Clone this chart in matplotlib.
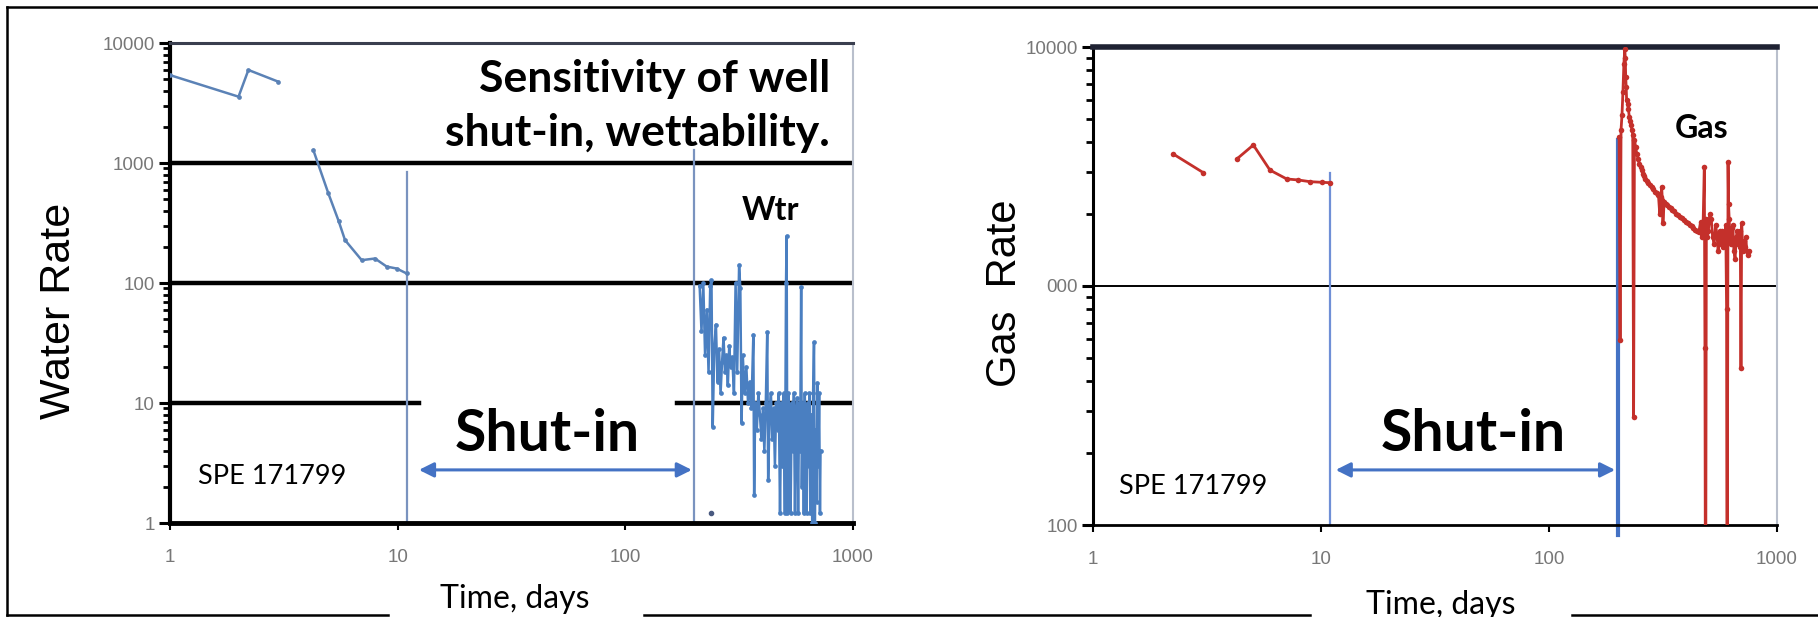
import matplotlib
matplotlib.use("Agg")
import matplotlib.pyplot as plt
from matplotlib.lines import Line2D
from matplotlib.ticker import FixedLocator, FixedFormatter, NullLocator, LogLocator, NullFormatter

plt.rcParams['font.family'] = ['Lato', 'DejaVu Sans']

# ---------------- data ----------------
x_ticks = [1, 10, 100, 1000]
x_tick_labels = ["1", "10", "100", "1000"]
water_y_ticks = [1, 10, 100, 1000, 10000]
water_y_labels = ["1", "10", "100", "1000", "10000"]
gas_y_ticks = [100, 1000, 10000]
gas_y_labels = ["100", "000", "10000"]

water_days_1 = [1.0, 2.0, 2.21, 2.99]
water_rate_1 = [5400, 3570, 5960, 4760]
water_days_2 = [4.26, 4.96, 5.5, 5.87, 6.95, 7.95, 8.95, 9.9, 10.96]
water_rate_2 = [1283, 559, 330, 228, 155, 160, 137, 132, 120]
water_days_3 = [212, 216, 220, 224, 228, 232, 236, 239, 242, 246, 250, 254, 258, 262,
                266, 270, 274, 278, 282, 286, 290, 295, 300, 305, 310, 316, 320, 324,
                328, 334, 340, 346, 352, 358, 365, 368, 372, 378, 384, 390, 396, 402,
                408, 414, 420, 424, 430, 436, 442, 448, 454, 460, 466, 472, 478, 484,
                490, 496, 502, 508, 511, 515, 520, 526, 532, 538, 544, 550, 556, 562,
                568, 574, 580, 586, 592, 596, 602, 608, 614, 620, 626, 632, 638, 644,
                650, 656, 662, 668, 674, 680, 686, 692, 698, 704, 710, 716, 720]
water_rate_3 = [95, 40, 100, 25, 60, 18, 95, 105, 6.3, 30, 45, 15, 28, 12,
                22, 35, 18, 25, 14, 30, 20, 24, 12, 100, 18, 140, 90, 6.8,
                25, 12, 20, 10, 15, 9, 37, 1.7, 10, 6, 12, 8, 5, 9,
                4, 10, 39, 2.3, 8, 12, 5, 9, 3, 10, 6, 12, 1.2, 10,
                3, 12, 1.2, 100, 246, 1.2, 12, 6, 1.2, 10, 4, 12, 1.2, 8,
                11, 1.2, 10, 4, 93, 2, 10, 1.2, 12, 5, 1.2, 10, 3, 12,
                1.2, 8, 1, 12, 32, 1, 6, 1.5, 14.7, 3, 12, 1.2, 4]
water_lone_day = [239]
water_lone_rate = [1.2]

gas_days_1 = [2.25, 3.05]
gas_rate_1 = [3565, 2978]
gas_days_2 = [4.27, 5.05, 5.97, 7.07, 7.95, 8.95, 10.07, 10.95]
gas_rate_2 = [3398, 3890, 3055, 2805, 2777, 2732, 2716, 2705]
gas_days_3 = [203, 205, 207, 209, 211, 213, 215, 216, 217, 218, 219, 221, 223, 225, 227,
              229, 231, 233, 235, 237, 240, 243, 246, 249, 252, 255, 258, 261, 264, 268,
              272, 277, 282, 287, 292, 297, 302, 306, 310, 312, 314, 316, 320, 325, 330,
              336, 342, 348, 354, 361, 368, 375, 382, 390, 398, 406, 414, 422, 430, 438,
              446, 454, 462, 468, 474, 480, 483, 486, 490, 495, 500, 507, 515, 522, 530,
              538, 545, 552, 560, 568, 575, 582, 590, 596, 601, 604, 610, 613, 617, 622,
              628, 634, 640, 647, 655, 662, 670, 677, 685, 690, 695, 700, 706, 712, 718,
              724, 730, 737, 745, 754]
gas_rate_3 = [4200, 595, 4500, 5200, 6500, 8500, 9800, 9000, 7500, 6800, 6000, 5800, 5500,
              5100, 4900, 4700, 4500, 4300, 283, 4100, 3800, 3550, 3400, 3250, 3150, 3050,
              2950, 2880, 2800, 2750, 2700, 2650, 2600, 2550, 2480, 2440, 2400, 2000, 2350,
              2600, 2300, 1830, 2250, 2200, 2180, 2150, 2120, 2080, 2050, 2000, 1980, 1950,
              1920, 1880, 1860, 1830, 1800, 1780, 1750, 1720, 1700, 1680, 1850, 1600, 1800,
              3150, 550, 20, 1900, 1600, 1700, 2000, 1900, 1600, 1500, 1800, 1650, 1400,
              1700, 1500, 1700, 1450, 1500, 1800, 800, 20, 3300, 2200, 1900, 1600, 1500,
              1750, 1800, 1400, 1300, 1600, 1700, 1500, 1450, 1700, 454, 1830, 1500, 1400,
              1550, 1450, 1600, 1400, 1350, 1400]

# shut-in markers (start / end day, tops of vertical lines)
shutin_days = [11.0, 201.0]
water_vline_tops = [841, 1283]
gas_vline_tops = [2970, 4080]
water_arrow = (12.4, 196, 2.77)
gas_arrow = (11.6, 195, 170)

# ---------------- figure ----------------
W, H = 1818, 617
fig = plt.figure(figsize=(W / 100, H / 100), dpi=100)

def fx(x):
    return x / W

def fy(y):
    return 1 - y / H

water_col = '#4a7fc1'
gas_col = '#c4302b'
line_blue = '#7a93bf'
arrow_blue = '#4472c4'
tick_grey = '#777777'

def setup_axis(ax, ylim, yticks, ylabels, top_color, top_lw, left_lw, bottom_lw):
    ax.set_xscale('log')
    ax.set_yscale('log')
    ax.set_xlim(1, 1000)
    ax.set_ylim(*ylim)
    ax.xaxis.set_major_locator(FixedLocator(x_ticks))
    ax.xaxis.set_major_formatter(FixedFormatter(x_tick_labels))
    ax.xaxis.set_minor_locator(NullLocator())
    ax.yaxis.set_major_locator(FixedLocator(yticks))
    ax.yaxis.set_major_formatter(FixedFormatter(ylabels))
    ax.yaxis.set_minor_locator(LogLocator(base=10, subs=range(2, 10)))
    ax.yaxis.set_minor_formatter(NullFormatter())
    ax.tick_params(axis='y', which='major', direction='out', length=8, width=2.2,
                   colors='black', labelcolor=tick_grey, labelsize=13.5, pad=3)
    ax.tick_params(axis='y', which='minor', direction='out', length=5, width=2.0, colors='black')
    ax.tick_params(axis='x', which='major', direction='out', length=5, width=1.5,
                   colors='black', labelcolor=tick_grey, labelsize=13.5, pad=14)
    for lab in ax.get_xticklabels() + ax.get_yticklabels():
        lab.set_family(['Liberation Sans', 'DejaVu Sans'])
    ax.spines['top'].set_color(top_color)
    ax.spines['top'].set_linewidth(top_lw)
    ax.spines['right'].set_color('#b9bfcc')
    ax.spines['right'].set_linewidth(1.5)
    ax.spines['left'].set_linewidth(left_lw)
    ax.spines['bottom'].set_linewidth(bottom_lw)
    ax.set_facecolor('white')

# ---------- left: water ----------
axw = fig.add_axes([fx(170), fy(523), fx(683), 480 / H])
setup_axis(axw, (1, 10000), water_y_ticks, water_y_labels, '#3a3f4f', 2.2, 3.0, 3.5)
for v in [100, 1000]:
    axw.axhline(v, color='black', lw=3.2, zorder=1)
axw.axhline(10, xmin=0, xmax=(419 - 170) / 683, color='black', lw=3.2, zorder=1)
axw.axhline(10, xmin=(677 - 170) / 683, xmax=1, color='black', lw=3.2, zorder=1)

for d, top in zip(shutin_days, water_vline_tops):
    axw.plot([d, d], [1, top], color=line_blue, lw=1.6, zorder=2)

mk = dict(marker='o', markersize=3.4, markeredgewidth=0, lw=1.8, zorder=3)
axw.plot(water_days_1, water_rate_1, color='#5b82b6', **mk)
axw.plot(water_days_2, water_rate_2, color='#5b82b6', **mk)
axw.plot(water_days_3, water_rate_3, color=water_col, **mk)
axw.plot(water_lone_day, water_lone_rate, color='#4a5a80', marker='o', markersize=3,
         lw=0, zorder=3)

axw.annotate('', xy=(water_arrow[1], water_arrow[2]), xytext=(water_arrow[0], water_arrow[2]),
             arrowprops=dict(arrowstyle='<|-|>', color=arrow_blue, lw=2.2, mutation_scale=22,
                             shrinkA=0, shrinkB=0), zorder=4)

# ---------- right: gas ----------
axg = fig.add_axes([fx(1093), fy(525), fx(684), 478 / H])
setup_axis(axg, (100, 10000), gas_y_ticks, gas_y_labels, '#1f2233', 4.0, 2.2, 2.0)
axg.axhline(1000, color='black', lw=1.4, zorder=1)

axg.plot([shutin_days[0]] * 2, [100, gas_vline_tops[0]], color='#6f8fd6', lw=1.6, zorder=2)
axg.plot([shutin_days[1]] * 2, [91, gas_vline_tops[1]], color=arrow_blue, lw=3.0, zorder=2,
         clip_on=False)

mkg = dict(marker='o', markersize=4.0, markeredgewidth=0, lw=2.0, zorder=3)
axg.plot(gas_days_1, gas_rate_1, color=gas_col, **mkg)
axg.plot(gas_days_2, gas_rate_2, color=gas_col, **mkg)
axg.plot(gas_days_3, gas_rate_3, color=gas_col, **mkg)

axg.annotate('', xy=(gas_arrow[1], gas_arrow[2]), xytext=(gas_arrow[0], gas_arrow[2]),
             arrowprops=dict(arrowstyle='<|-|>', color=arrow_blue, lw=2.2, mutation_scale=22,
                             shrinkA=0, shrinkB=0), zorder=4)

# ---------- texts ----------
fig.text(fx(830), fy(92), "Sensitivity of well", ha='right', va='baseline',
         fontsize=32, fontweight='bold', color='black')
fig.text(fx(830), fy(146), "shut-in, wettability.", ha='right', va='baseline',
         fontsize=32, fontweight='bold', color='black')
fig.text(fx(770), fy(220), "Wtr", ha='center', va='baseline', fontsize=23,
         fontweight='bold', color='black')
fig.text(fx(1702), fy(138), "Gas", ha='center', va='baseline', fontsize=23,
         fontweight='bold', color='black')
fig.text(fx(547), fy(451), "Shut-in", ha='center', va='baseline', fontsize=41,
         fontweight='bold', color='black')
fig.text(fx(1473), fy(451), "Shut-in", ha='center', va='baseline', fontsize=41,
         fontweight='bold', color='black')
fig.text(fx(198), fy(484), "SPE 171799", ha='left', va='baseline', fontsize=19.5, color='black')
fig.text(fx(1119), fy(494), "SPE 171799", ha='left', va='baseline', fontsize=19.5, color='black')
fig.text(fx(59), fy(311), "Water Rate", rotation=90, ha='center', va='center', fontsize=31,
         family=['Liberation Sans', 'DejaVu Sans'], color='black')
fig.text(fx(1005), fy(293), "Gas  Rate", rotation=90, ha='center', va='center', fontsize=30,
         family=['Liberation Sans', 'DejaVu Sans'], color='black')
fig.text(fx(515), fy(608), "Time, days", ha='center', va='baseline', fontsize=23, color='black')
fig.text(fx(1441), fy(614), "Time, days", ha='center', va='baseline', fontsize=23, color='black')

# ---------- outer frame ----------
frame = dict(color='black', lw=1.8, transform=fig.transFigure)
fig.add_artist(Line2D([fx(7), fx(1818)], [fy(7), fy(7)], **frame))
fig.add_artist(Line2D([fx(7), fx(7)], [fy(7), fy(615)], **frame))
fig.add_artist(Line2D([fx(7), fx(388)], [fy(615), fy(615)], **frame))
fig.add_artist(Line2D([fx(644), fx(1310)], [fy(615), fy(615)], **frame))
fig.add_artist(Line2D([fx(1572), fx(1818)], [fy(615), fy(615)], **frame))

fig.savefig("out.png", dpi=100, facecolor='white')
